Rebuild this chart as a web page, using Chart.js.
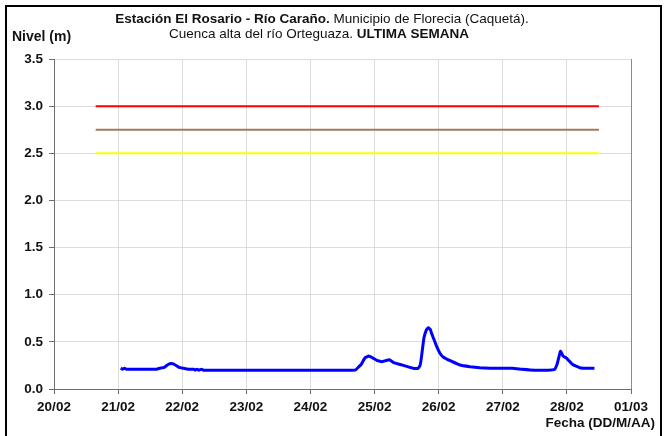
<!DOCTYPE html>
<html lang="es">
<head>
<meta charset="utf-8">
<title>Estación El Rosario - Río Caraño</title>
<script src="https://cdn.jsdelivr.net/npm/chart.js@4/dist/chart.umd.min.js"></script>
<style>
  html, body { margin: 0; padding: 0; background: #ffffff; }
  #wrap { position: relative; width: 665px; height: 436px; }
</style>
</head>
<body>
<div id="wrap"><canvas id="grafico" width="665" height="436"></canvas></div>
<script>
// Etiquetas del eje de fechas (un día por marca, desde 20/02)
const fechas = ['20/02', '21/02', '22/02', '23/02', '24/02', '25/02', '26/02', '27/02', '28/02', '01/03'];

// Tiempo de cada lectura, en días contados desde el 20/02 a las 00:00
const dias = [
  1.04, 1.07, 1.10, 1.13, 1.20, 1.40, 1.60, 1.65, 1.72, 1.78, 1.83, 1.88, 1.95, 2.02, 2.10,
  2.18, 2.20, 2.23, 2.26, 2.30, 2.33, 2.60, 2.85, 2.95, 3.10, 3.30, 3.40, 3.60, 4.00, 4.40,
  4.70, 4.76, 4.80, 4.85, 4.91, 4.97, 5.05, 5.11, 5.17, 5.23, 5.30, 5.40, 5.50, 5.60, 5.68,
  5.71, 5.73, 5.77, 5.81, 5.84, 5.87, 5.89, 5.93, 5.97, 6.02, 6.07, 6.18, 6.33, 6.49, 6.64,
  6.80, 6.96, 7.15, 7.30, 7.50, 7.70, 7.81, 7.85, 7.90, 7.94, 7.99, 8.09, 8.20, 8.30, 8.43
];

// Nivel registrado (m) en cada lectura
const nivel = [
  0.22, 0.21, 0.22, 0.21, 0.21, 0.21, 0.21, 0.22, 0.23, 0.26, 0.27, 0.26, 0.23, 0.22, 0.21,
  0.21, 0.20, 0.21, 0.20, 0.21, 0.20, 0.20, 0.20, 0.20, 0.20, 0.20, 0.20, 0.20, 0.20, 0.20,
  0.20, 0.24, 0.27, 0.33, 0.35, 0.33, 0.30, 0.29, 0.30, 0.31, 0.28, 0.26, 0.24, 0.22, 0.22,
  0.25, 0.33, 0.54, 0.63, 0.65, 0.63, 0.59, 0.52, 0.45, 0.38, 0.34, 0.30, 0.255, 0.237, 0.226,
  0.22, 0.22, 0.22, 0.21, 0.20, 0.20, 0.21, 0.27, 0.40, 0.35, 0.33, 0.26, 0.226, 0.22, 0.22
];

// Umbrales de alerta (m) y tramo de días en que se trazan
const umbralRoja = 3.0;
const umbralNaranja = 2.75;
const umbralAmarilla = 2.5;
const umbralDias = [0.65, 8.5];

// Marcas del eje de nivel
const nivelTicks = [0, 0.5, 1.0, 1.5, 2.0, 2.5, 3.0, 3.5];

const serie = dias.map((d, i) => ({ x: d, y: nivel[i] }));
const tramo = v => umbralDias.map(d => ({ x: d, y: v }));

const FUENTE = '"Liberation Sans", Arial, sans-serif';

// Título con partes en negrita, rótulos de ejes y marco exterior
const rotulos = {
  id: 'rotulos',
  afterDraw(chart) {
    const ctx = chart.ctx;
    const area = chart.chartArea;
    ctx.save();

    // borde derecho del área de trazado
    ctx.strokeStyle = '#8c8c8c';
    ctx.lineWidth = 1;
    ctx.beginPath();
    ctx.moveTo(area.right + 0.5, area.top);
    ctx.lineTo(area.right + 0.5, area.bottom);
    ctx.stroke();

    ctx.fillStyle = '#111111';
    ctx.textBaseline = 'middle';

    const linea = (partes, cx, y) => {
      let total = 0;
      partes.forEach(p => { ctx.font = p[1] + ' 13.5px ' + FUENTE; total += ctx.measureText(p[0]).width; });
      let x = cx - total / 2;
      ctx.textAlign = 'left';
      partes.forEach(p => {
        ctx.font = p[1] + ' 13.5px ' + FUENTE;
        ctx.fillText(p[0], x, y);
        x += ctx.measureText(p[0]).width;
      });
    };
    linea([['Estación El Rosario - Río Caraño.', 'bold'], [' Municipio de Florecia (Caquetá).', 'normal']], 322, 19);
    linea([['Cuenca alta del río Orteguaza. ', 'normal'], ['ULTIMA SEMANA', 'bold']], 319, 34);

    ctx.font = 'bold 14px ' + FUENTE;
    ctx.textAlign = 'left';
    ctx.fillText('Nivel (m)', 12, 37);
    ctx.font = 'bold 13.5px ' + FUENTE;
    ctx.textAlign = 'right';
    ctx.fillText('Fecha (DD/M/AA)', 655, 423);

    // marco exterior
    ctx.strokeStyle = '#000000';
    ctx.lineWidth = 2;
    ctx.strokeRect(6, 6, 655, 440);
    ctx.restore();
  }
};

new Chart(document.getElementById('grafico'), {
  type: 'line',
  data: {
    datasets: [
      { label: 'Nivel', data: serie, borderColor: '#0000ff', borderWidth: 3, pointRadius: 0, tension: 0.1, fill: false, order: 0 },
      { label: 'Alerta roja', data: tramo(umbralRoja), borderColor: '#ff0000', borderWidth: 2, pointRadius: 0, fill: false, order: 1 },
      { label: 'Alerta naranja', data: tramo(umbralNaranja), borderColor: '#a47b58', borderWidth: 2, pointRadius: 0, fill: false, order: 1 },
      { label: 'Alerta amarilla', data: tramo(umbralAmarilla), borderColor: '#ffff00', borderWidth: 2, pointRadius: 0, fill: false, order: 1 }
    ]
  },
  options: {
    responsive: false,
    animation: false,
    events: [],
    layout: { padding: { left: 0, top: 59, right: 34, bottom: 0 } },
    plugins: { legend: { display: false }, tooltip: { enabled: false }, title: { display: false } },
    scales: {
      x: {
        type: 'linear',
        min: 0,
        max: fechas.length - 1,
        afterBuildTicks: s => { s.ticks = fechas.map((_, i) => ({ value: i })); },
        afterFit: s => { s.height = 47; },
        ticks: {
          autoSkip: false,
          maxRotation: 0,
          padding: 5,
          color: '#111111',
          font: { family: FUENTE, size: 13.5, weight: 'bold' },
          callback: v => fechas[v]
        },
        grid: { color: '#dcdcdc', lineWidth: 1, tickLength: 5, tickColor: '#6e6e6e' },
        border: { color: '#6e6e6e', width: 1 }
      },
      y: {
        min: 0,
        max: 3.5,
        afterBuildTicks: s => { s.ticks = nivelTicks.map(v => ({ value: v })); },
        afterFit: s => { s.width = 54; },
        ticks: {
          padding: 6,
          color: '#111111',
          font: { family: FUENTE, size: 13.5, weight: 'bold' },
          callback: v => Number(v).toFixed(1)
        },
        grid: { color: '#dcdcdc', lineWidth: 1, tickLength: 5, tickColor: '#6e6e6e' },
        border: { color: '#6e6e6e', width: 1 }
      }
    }
  },
  plugins: [rotulos]
});
</script>
</body>
</html>
